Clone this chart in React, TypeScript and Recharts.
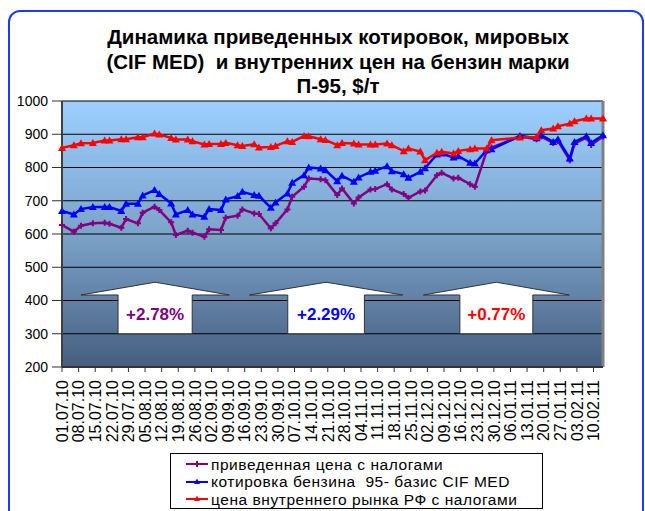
import { LineChart, Line, XAxis, YAxis, CartesianGrid, ReferenceArea, ReferenceLine } from "recharts"

// dates of the observations (dd.mm.yy)
const pointDates = [
  "01.07.10", "06.07.10", "09.07.10", "14.07.10", "19.07.10", "21.07.10", "26.07.10", "28.07.10",
  "02.08.10", "04.08.10", "09.08.10", "11.08.10", "16.08.10", "18.08.10", "23.08.10", "25.08.10",
  "30.08.10", "01.09.10", "06.09.10", "08.09.10", "13.09.10", "15.09.10", "20.09.10", "22.09.10",
  "27.09.10", "29.09.10", "04.10.10", "06.10.10", "11.10.10", "13.10.10", "18.10.10", "20.10.10",
  "25.10.10", "27.10.10", "01.11.10", "03.11.10", "08.11.10", "10.11.10", "15.11.10", "17.11.10",
  "22.11.10", "24.11.10", "29.11.10", "01.12.10", "06.12.10", "08.12.10", "13.12.10", "15.12.10",
  "20.12.10", "22.12.10", "27.12.10", "29.12.10", "10.01.11", "17.01.11", "19.01.11", "24.01.11",
  "26.01.11", "31.01.11", "02.02.11", "07.02.11", "09.02.11", "14.02.11",
]

// weekly axis labels
const tickDates = [
  "01.07.10", "08.07.10", "15.07.10", "22.07.10", "29.07.10", "05.08.10", "12.08.10", "19.08.10",
  "26.08.10", "02.09.10", "09.09.10", "16.09.10", "23.09.10", "30.09.10", "07.10.10", "14.10.10",
  "21.10.10", "28.10.10", "04.11.10", "11.11.10", "18.11.10", "25.11.10", "02.12.10", "09.12.10",
  "16.12.10", "23.12.10", "30.12.10", "06.01.11", "13.01.11", "20.01.11", "27.01.11", "03.02.11",
  "10.02.11",
]

// приведенная цена с налогами
const reducedPrice = [
  627, 607, 625, 632, 634, 631, 619, 645, 632, 664, 682, 672, 635, 597, 610, 604,
  592, 614, 612, 649, 655, 674, 662, 660, 617, 632, 674, 712, 742, 767, 765, 762,
  717, 737, 692, 710, 734, 735, 750, 734, 720, 709, 728, 731, 777, 784, 767, 769,
  750, 742, 850, 860, 893, 885, 893, 874, 880, 822, 872, 890, 868, 893,
]

// котировка бензина 95 - базис CIF MED
const cifMed = [
  669, 659, 675, 681, 681, 681, 669, 691, 691, 716, 732, 720, 692, 659, 672, 659,
  652, 675, 672, 704, 714, 727, 717, 715, 679, 695, 722, 754, 777, 800, 797, 792,
  759, 775, 757, 770, 787, 790, 804, 789, 780, 769, 787, 798, 839, 842, 830, 834,
  814, 812, 852, 855, 895, 888, 897, 877, 885, 827, 877, 894, 874, 897,
]

// цена внутреннего рынка РФ с налогами
const domestic = [
  859, 867, 873, 874, 881, 881, 885, 885, 891, 891, 902, 899, 889, 884, 884, 879,
  869, 871, 871, 874, 867, 865, 870, 860, 862, 865, 879, 877, 895, 894, 885, 883,
  867, 874, 872, 869, 869, 869, 872, 867, 849, 857, 848, 822, 844, 847, 842, 850,
  855, 857, 857, 882, 890, 892, 912, 917, 924, 932, 939, 947, 947, 947,
]

const seriesNames = [
  "приведенная цена с налогами",
  "котировка бензина  95- базис CIF MED",
  "цена внутреннего рынка РФ с налогами",
]
const seriesColors = ["#800080", "#0000FF", "#FF0000"]

const yTicks = [200, 300, 400, 500, 600, 700, 800, 900, 1000]

// growth callouts: label and the span of days they cover
const calloutLabels = ["+2.78%", "+2.29%", "+0.77%"]
const calloutFrom = [8, 79, 152.3]
const calloutTo = [70.5, 143.6, 213.8]

const FONT = "'Liberation Sans', Arial, sans-serif"

const toDay = (s: string) => {
  const [d, m, y] = s.split(".").map(Number)
  return Date.UTC(2000 + y, m - 1, d) / 86400000
}
const day0 = toDay(tickDates[0])

const data = pointDates.map((d, i) => ({
  day: toDay(d) - day0,
  reduced: reducedPrice[i],
  cif: cifMed[i],
  domestic: domestic[i],
}))
const lastDay = data[data.length - 1].day
const tickDays = tickDates.map((d) => toDay(d) - day0)
const tickLabel: Record<number, string> = {}
tickDays.forEach((d, i) => (tickLabel[d] = tickDates[i]))

function DateTick({ x, y, payload }: any) {
  return (
    <g transform={`translate(${x},${y})`}>
      <text transform="rotate(-90)" textAnchor="end" dy="0.36em" fontSize={16} fontFamily={FONT} fill="#000">
        {tickLabel[payload.value]}
      </text>
    </g>
  )
}

const triangleDot = (color: string) => (p: any) => {
  const { cx, cy, index } = p
  if (cx == null || cy == null) return <g key={index} />
  return <path key={index} d={`M${cx},${cy - 4}L${cx + 4},${cy + 3}L${cx - 4},${cy + 3}Z`} fill={color} />
}

const plusDot = (color: string) => (p: any) => {
  const { cx, cy, index } = p
  if (cx == null || cy == null) return <g key={index} />
  return (
    <path
      key={index}
      d={`M${cx - 3},${cy}H${cx + 3}M${cx},${cy - 3}V${cy + 3}`}
      stroke={color}
      strokeWidth={2}
    />
  )
}

const ArrowShape = (label: string, color: string) => (p: any) => {
  const { x, y, width: w, height: h } = p
  const s = y + h * 0.248
  const bl = x + w * 0.25
  const br = x + w * 0.75
  const pts = [
    [x, s], [x + w / 2, y], [x + w, s], [br, s], [br, y + h], [bl, y + h], [bl, s],
  ].map((q) => q.join(",")).join(" ")
  return (
    <g>
      <polygon points={pts} fill="#fff" stroke="#333" strokeWidth={1} />
      <text
        x={x + w / 2}
        y={(s + y + h) / 2}
        dy="0.36em"
        textAnchor="middle"
        fontSize={17}
        fontWeight="bold"
        fontFamily={FONT}
        fill={color}
      >
        {label}
      </text>
    </g>
  )
}

function LegendBox() {
  return (
    <div
      style={{
        position: "absolute",
        left: 170,
        top: 453,
        width: 373,
        height: 56,
        border: "1px solid #000",
        background: "#fff",
        fontFamily: FONT,
        fontSize: 15.5,
        letterSpacing: 0.55,
        lineHeight: "17.5px",
        paddingTop: 1.5,
        boxSizing: "border-box",
      }}
    >
      {seriesNames.map((name, i) => (
        <div key={name} style={{ display: "flex", alignItems: "center", height: 17.5, whiteSpace: "pre" }}>
          <svg width={24} height={10} style={{ marginLeft: 14, marginRight: 2 }}>
            <line x1={1} y1={5} x2={23} y2={5} stroke={seriesColors[i]} strokeWidth={2} />
            {i === 0 ? (
              <path d="M9,5H15M12,2V8" stroke={seriesColors[i]} strokeWidth={2} />
            ) : (
              <path d="M12,1.5L15,7L9,7Z" fill={seriesColors[i]} />
            )}
          </svg>
          <span>{name}</span>
        </div>
      ))}
    </div>
  )
}

export default function App() {
  return (
    <div style={{ position: "fixed", left: 0, top: 0, width: 645, height: 511, overflow: "hidden", background: "#fff" }}>
      <div
        style={{
          position: "absolute",
          left: 8,
          top: 10,
          width: 632,
          height: 540,
          border: "2px solid #1a3cff",
          borderRadius: 12,
        }}
      />
      <div
        style={{
          position: "absolute",
          left: 0,
          top: 25,
          width: 676,
          textAlign: "center",
          fontFamily: FONT,
          fontWeight: "bold",
          fontSize: 20.5,
          lineHeight: "24.5px",
          whiteSpace: "pre",
        }}
      >
        {"Динамика приведенных котировок, мировых\n(CIF MED)  и внутренних цен на бензин марки\nП-95, $/т"}
      </div>
      <div style={{ position: "absolute", left: 0, top: 0 }}>
        <LineChart width={645} height={511} data={data} margin={{ top: 101, right: 42, left: 12, bottom: 64 }}>
          <defs>
            <linearGradient id="plotBg" x1="0" y1="0" x2="0" y2="1">
              <stop offset="0%" stopColor="#9CCFFF" />
              <stop offset="50%" stopColor="#7CA3CA" />
              <stop offset="100%" stopColor="#465E7F" />
            </linearGradient>
          </defs>
          <CartesianGrid vertical={false} fill="url(#plotBg)" stroke="#000" strokeWidth={1} />
          <XAxis
            type="number"
            dataKey="day"
            domain={[0, lastDay]}
            ticks={tickDays}
            interval={0}
            height={80}
            tick={<DateTick />}
            tickSize={5}
            tickMargin={8}
            tickLine={{ stroke: "#333" }}
            axisLine={{ stroke: "#333", strokeWidth: 2 }}
          />
          <YAxis
            domain={[200, 1000]}
            ticks={yTicks}
            interval={0}
            width={50}
            tickSize={10}
            tickMargin={4}
            tick={{ fill: "#000", fontSize: 14, fontFamily: FONT }}
            tickLine={{ stroke: "#333" }}
            axisLine={{ stroke: "#404040", strokeWidth: 2 }}
          />
          <ReferenceLine x={lastDay} stroke="#808080" strokeWidth={3} />
          {calloutLabels.map((label, i) => (
            <ReferenceArea
              key={label}
              x1={calloutFrom[i]}
              x2={calloutTo[i]}
              y1={300}
              y2={455}
              shape={ArrowShape(label, seriesColors[i])}
            />
          ))}
          <Line
            dataKey="reduced"
            name={seriesNames[0]}
            stroke={seriesColors[0]}
            strokeWidth={2.5}
            dot={plusDot(seriesColors[0])}
            isAnimationActive={false}
          />
          <Line
            dataKey="cif"
            name={seriesNames[1]}
            stroke={seriesColors[1]}
            strokeWidth={2.5}
            dot={triangleDot(seriesColors[1])}
            isAnimationActive={false}
          />
          <Line
            dataKey="domestic"
            name={seriesNames[2]}
            stroke={seriesColors[2]}
            strokeWidth={2.5}
            dot={triangleDot(seriesColors[2])}
            isAnimationActive={false}
          />
        </LineChart>
      </div>
      <LegendBox />
    </div>
  )
}
